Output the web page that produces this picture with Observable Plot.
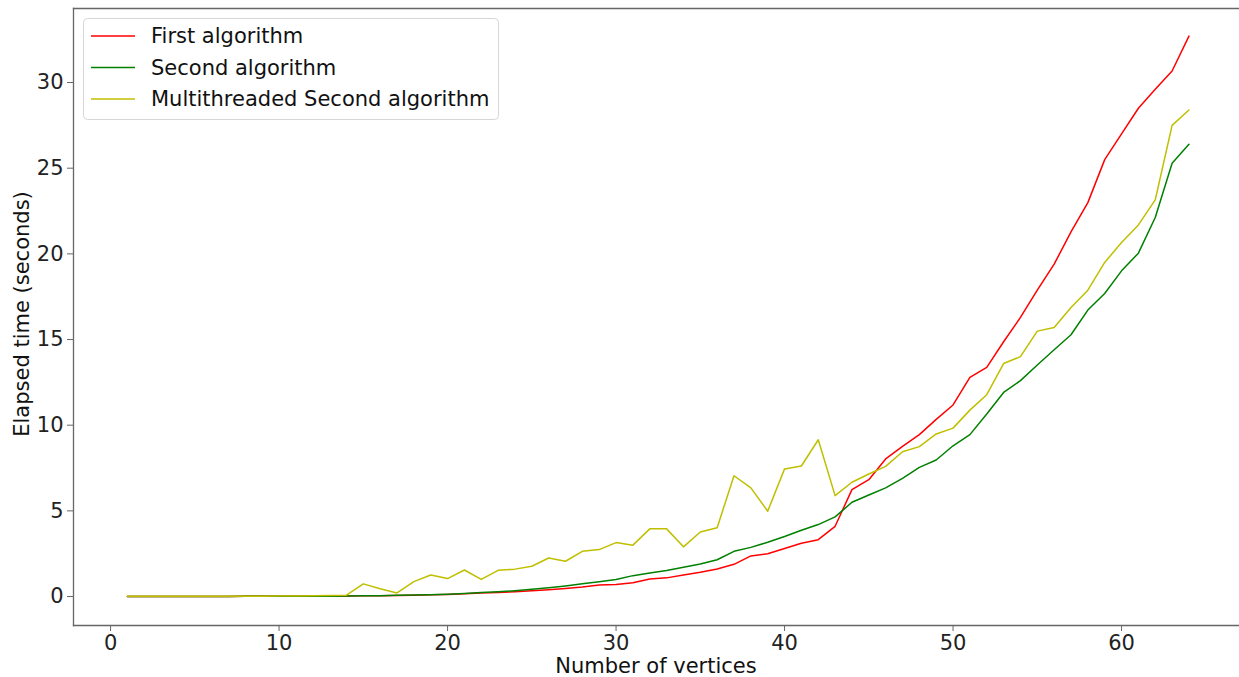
<!DOCTYPE html>
<html>
<head>
<meta charset="utf-8">
<script src="https://cdn.jsdelivr.net/npm/d3@7"></script>
<script src="https://cdn.jsdelivr.net/npm/@observablehq/plot@0.6"></script>
<style>
  html, body { margin: 0; padding: 0; background: #fff; }
  #chart svg { display: block; }
</style>
</head>
<body>
<div id="chart"></div>
<script>
const vertices = d3.range(1, 65);
const seriesNames = ["First algorithm", "Second algorithm", "Multithreaded Second algorithm"];
const seriesColors = ["#ff0000", "#008000", "#bfbf00"];

const firstAlgorithm = [0,0,0,0,0,0,0,0.01,0.01,0.01,0.01,0.02,0.02,0.03,0.04,0.05,0.06,0.08,0.1,0.12,
  0.16,0.2,0.24,0.28,0.34,0.4,0.47,0.56,0.68,0.7,0.8,1.03,1.09,1.26,1.42,1.61,1.88,2.37,2.5,2.8,
  3.11,3.32,4.1,6.24,6.82,8.03,8.77,9.45,10.34,11.18,12.79,13.37,14.87,16.29,17.88,19.4,21.28,22.99,25.5,27.0,
  28.5,29.6,30.67,32.71];
const secondAlgorithm = [0,0,0,0,0,0,0,0.01,0.01,0.01,0.01,0.02,0.02,0.03,0.04,0.05,0.07,0.09,0.11,0.14,
  0.18,0.23,0.28,0.34,0.42,0.52,0.62,0.74,0.86,0.99,1.22,1.38,1.52,1.71,1.9,2.15,2.64,2.87,3.17,3.5,
  3.87,4.2,4.65,5.5,5.93,6.34,6.9,7.54,7.97,8.8,9.45,10.65,11.91,12.6,13.51,14.4,15.28,16.72,17.69,19.01,
  20.04,22.12,25.29,26.4];
const multithreadedSecond = [0.01,0.01,0.01,0.01,0.01,0.01,0.01,0.01,0.02,0.03,0.03,0.04,0.06,0.08,0.74,0.45,0.21,0.87,1.26,1.05,
  1.55,1.0,1.53,1.6,1.77,2.25,2.06,2.64,2.74,3.15,3.0,3.95,3.95,2.9,3.77,4.02,7.05,6.34,4.98,7.45,
  7.62,9.15,5.89,6.67,7.15,7.6,8.45,8.75,9.49,9.83,10.88,11.78,13.6,14.0,15.49,15.7,16.87,17.88,19.5,20.66,
  21.69,23.15,27.5,28.4];
const xTicks = [0, 10, 20, 30, 40, 50, 60];
const yTicks = [0, 5, 10, 15, 20, 25, 30];
const xLabel = "Number of vertices";
const yLabel = "Elapsed time (seconds)";

const allSeries = [firstAlgorithm, secondAlgorithm, multithreadedSecond];
const data = [];
allSeries.forEach((vals, si) => {
  vals.forEach((v, i) => data.push({series: seriesNames[si], x: vertices[i], y: v}));
});

const W = 1239, H = 677;
const mL = 73, mT = 8, mR = 0, mB = 52;
const font = "'DejaVu Sans', sans-serif";
const fs = 21;

const plot = Plot.plot({
  width: W,
  height: H,
  marginLeft: mL,
  marginTop: mT,
  marginRight: mR,
  marginBottom: mB,
  style: {fontFamily: font, fontSize: fs + "px", color: "#222", background: "#fff", overflow: "visible"},
  x: {domain: [-2.2, 67.0]},
  y: {domain: [-1.69, 34.32]},
  color: {domain: seriesNames, range: seriesColors},
  marks: [
    Plot.line(data, {x: "x", y: "y", z: "series", stroke: "series", strokeWidth: 1.5}),
    Plot.frame({anchor: "top", stroke: "#666", strokeWidth: 1.3}),
    Plot.frame({anchor: "left", stroke: "#666", strokeWidth: 1.3}),
    Plot.frame({anchor: "bottom", stroke: "#666", strokeWidth: 1.3}),
    Plot.axisX({ticks: xTicks, tickSize: 6, tickPadding: 4, fontSize: fs, stroke: "#666", label: null, tickFormat: d => String(d)}),
    Plot.axisY({ticks: yTicks, tickSize: 6, tickPadding: 4, fontSize: fs, stroke: "#666", label: null, tickFormat: d => String(d)})
  ]
});

document.getElementById("chart").appendChild(plot);

const svg = d3.select(plot);
svg.append("text")
  .attr("x", (mL + W) / 2).attr("y", 666)
  .attr("text-anchor", "middle").attr("dy", "0.35em")
  .style("font-family", font).style("font-size", fs + "px").attr("fill", "#111")
  .text(xLabel);
svg.append("text")
  .attr("transform", "translate(22,314) rotate(-90)")
  .attr("text-anchor", "middle").attr("dy", "0.35em")
  .style("font-family", font).style("font-size", fs + "px").attr("fill", "#111")
  .text(yLabel);

const lg = svg.append("g");
lg.append("rect").attr("x", 83.5).attr("y", 18.5).attr("width", 415).attr("height", 101)
  .attr("rx", 4).attr("fill", "#fff").attr("fill-opacity", 0.85).attr("stroke", "#d6d6d6");
seriesNames.forEach((name, i) => {
  const yy = 36 + i * 31.5;
  lg.append("line").attr("x1", 91).attr("x2", 135).attr("y1", yy).attr("y2", yy)
    .attr("stroke", seriesColors[i]).attr("stroke-width", 1.5);
  lg.append("text").attr("x", 151).attr("y", yy).attr("dy", "0.35em")
    .attr("text-anchor", "start")
    .style("font-family", font).style("font-size", fs + "px").attr("fill", "#111")
    .text(name);
});
</script>
</body>
</html>
